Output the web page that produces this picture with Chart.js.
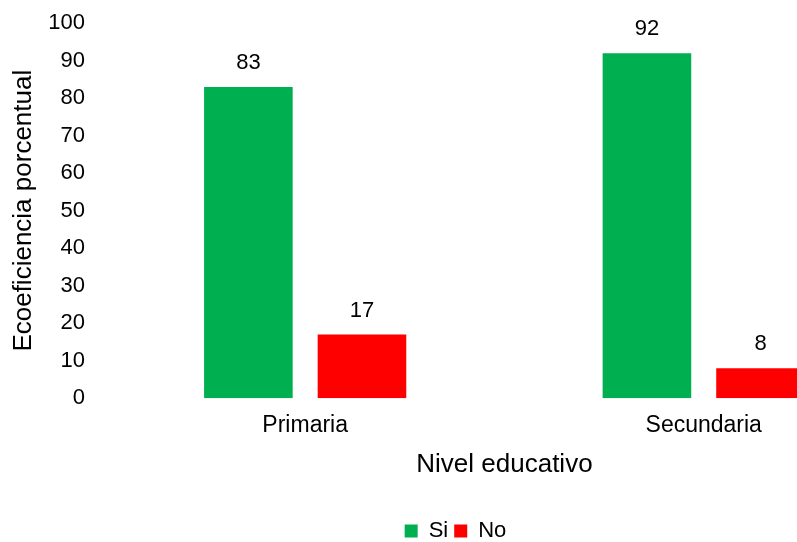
<!DOCTYPE html>
<html>
<head>
<meta charset="utf-8">
<script src="https://cdn.jsdelivr.net/npm/chart.js@4.4.0/dist/chart.umd.min.js"></script>
<style>
  html, body { margin: 0; padding: 0; background: #fff; overflow: hidden; }
  #wrap { width: 903px; height: 553px; margin-top: -11px; }
</style>
</head>
<body>
<div id="wrap"><canvas id="chart"></canvas></div>
<script>
// niveles y valores
const categories = ['Primaria', 'Secundaria'];
const siValues = [83, 92];
const noValues = [17, 8];
const yTicks = [0, 10, 20, 30, 40, 50, 60, 70, 80, 90, 100];

const siColor = '#00B050';
const noColor = '#FF0000';
const fontFamily = '"Liberation Sans", Arial, sans-serif';

// etiquetas de valor encima de cada barra
const valueLabels = {
  id: 'valueLabels',
  afterDatasetsDraw(chart) {
    const ctx = chart.ctx;
    ctx.save();
    ctx.font = '22px ' + fontFamily;
    ctx.fillStyle = '#000';
    ctx.textAlign = 'center';
    ctx.textBaseline = 'bottom';
    chart.data.datasets.forEach((ds, i) => {
      chart.getDatasetMeta(i).data.forEach((bar, j) => {
        ctx.fillText(ds.data[j], bar.x, bar.y - 13);
      });
    });
    ctx.restore();
  }
};

new Chart(document.getElementById('chart'), {
  type: 'bar',
  data: {
    labels: categories,
    datasets: [{
      label: 'Si',
      data: siValues,
      backgroundColor: siColor,
      categoryPercentage: 0.57,
      barPercentage: 0.78,
    }, {
      label: 'No',
      data: noValues,
      backgroundColor: noColor,
      categoryPercentage: 0.57,
      barPercentage: 0.78,
    }]
  },
  options: {
    responsive: true,
    maintainAspectRatio: false,
    animation: false,
    layout: { padding: { top: 0, left: 8, right: 0, bottom: -10 } },
    plugins: {
      tooltip: { enabled: false },
      legend: {
        position: 'bottom',
        labels: {
          boxWidth: 13,
          boxHeight: 13,
          padding: 6,
          color: '#000',
          font: { family: fontFamily, size: 22 }
        }
      }
    },
    scales: {
      x: {
        grid: { display: false, drawTicks: false },
        border: { display: false },
        ticks: { color: '#000', padding: 14, font: { family: fontFamily, size: 23 } },
        title: {
          display: true,
          text: 'Nivel educativo',
          color: '#000',
          padding: { top: -5, bottom: 34 },
          font: { family: fontFamily, size: 26 }
        }
      },
      y: {
        min: 0,
        max: 100,
        afterBuildTicks(axis) {
          axis.ticks = yTicks.map(v => ({ value: v }));
        },
        grid: { display: false, drawTicks: false },
        border: { display: false },
        ticks: { color: '#000', padding: 21, font: { family: fontFamily, size: 22 } },
        title: {
          display: true,
          text: 'Ecoeficiencia porcentual',
          color: '#000',
          padding: { top: 0, bottom: -12 },
          font: { family: fontFamily, size: 26 }
        }
      }
    }
  },
  plugins: [valueLabels]
});
</script>
</body>
</html>
